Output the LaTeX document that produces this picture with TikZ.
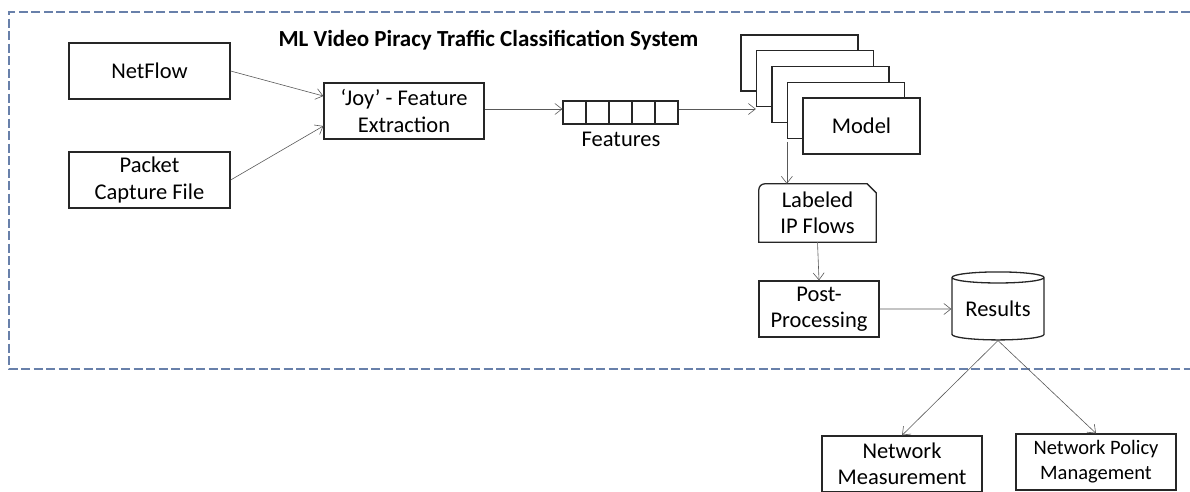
\documentclass[tikz,border=0pt]{standalone}
\usepackage{fontspec}
\setmainfont{Carlito}
\usepackage{tikz}
\usetikzlibrary{positioning, calc, shapes, shapes.geometric, arrows.meta}

\begin{document}
\begin{tikzpicture}[x=1pt, y=-1pt,
  every node/.style={inner sep=0pt, align=center, font=\fontsize{22.5}{26.5}\selectfont},
  box/.style={draw=black!85, line width=1.3pt, fill=white},
  cell/.style={draw=black!85, line width=1.2pt, minimum width=23pt, minimum height=23pt},
  flow/.style={draw=black!65, line width=0.6pt, -{Straight Barb[length=7pt, width=11pt]}}]
  \useasboundingbox (0,0) rectangle (1190,491);
  % system frame
  \draw[draw={rgb,255:red,104;green,128;blue,170}, line width=1.5pt, dash pattern=on 9pt off 3.5pt]
    (1190,12) -- (9,12) -- (9,369) -- (1190,369);
  \node[font=\fontsize{23}{27}\selectfont\bfseries] (title) at (488.5,40) {ML Video Piracy Traffic Classification System};
  % inputs
  \node[box, minimum width=161pt, minimum height=56pt] (netflow) at (149.5,71) {NetFlow};
  \node[box, minimum width=161pt, minimum height=56pt] (pcap) at (149.5,180) {Packet\\Capture File};
  \node[box, minimum width=160pt, minimum height=56pt] (joy) at (404,111) {‘Joy’ - Feature\\Extraction};
  % feature vector
  \foreach \i in {1,...,5}
    \node[cell] (cell\i) at ({563+23*(\i-0.5)},112.5) {};
  \node (features) at (621,139) {Features};
  % model stack
  \foreach \i in {0,...,3}
    \node[box, minimum width=117pt, minimum height=56pt] (model\i) at ({799.5+15.5*\i},{63+15.75*\i}) {};
  \node[box, minimum width=117pt, minimum height=56pt] (model4) at (861.5,126) {Model};
  % outputs
  \node[minimum width=117pt, minimum height=58pt] (labeled) at (817.5,213) {Labeled\\IP Flows};
  \draw[black!85, line width=1.3pt]
    ([yshift=-6pt]labeled.north west) arc[start angle=180, end angle=90, radius=6pt]
    -- ([xshift=-9pt]labeled.north east) -- ([yshift=-9pt]labeled.north east)
    -- (labeled.south east) -- (labeled.south west) -- cycle;
  \node[box, minimum width=120pt, minimum height=56pt] (post) at (819,309) {Post-\\Processing};
  \node[draw=black!85, line width=1.3pt, cylinder, shape border rotate=90, aspect=0.17,
        minimum width=92pt, minimum height=68pt] (results) at (998,309) {Results};
  \node[box, minimum width=160pt, minimum height=56pt] (measure) at (902,464) {Network\\Measurement};
  \node[box, minimum width=160pt, minimum height=56pt, font=\fontsize{20.5}{25}\selectfont] (policy) at (1096,462) {Network Policy\\Management};
  % connectors
  \draw[flow] (netflow.east) -- ([yshift=15pt]joy.west);
  \draw[flow] (pcap.east) -- ([yshift=-15pt]joy.west);
  \draw[flow] ([yshift=2pt]joy.east) -- ([yshift=2pt]joy.east -| cell1.west);
  \draw[flow] (cell5.east |- 0,109) -- (model1.west |- 0,109);
  \draw[flow] ([yshift=-3pt]model3.south west) -- (model3.south west |- labeled.north);
  \draw[flow] (labeled.south) -- (post.north);
  \draw[flow] (post.east) -- (results.west);
  \draw[flow] (results.south) -- (measure.north);
  \draw[flow] (results.south) -- (policy.north);
\end{tikzpicture}
\end{document}
